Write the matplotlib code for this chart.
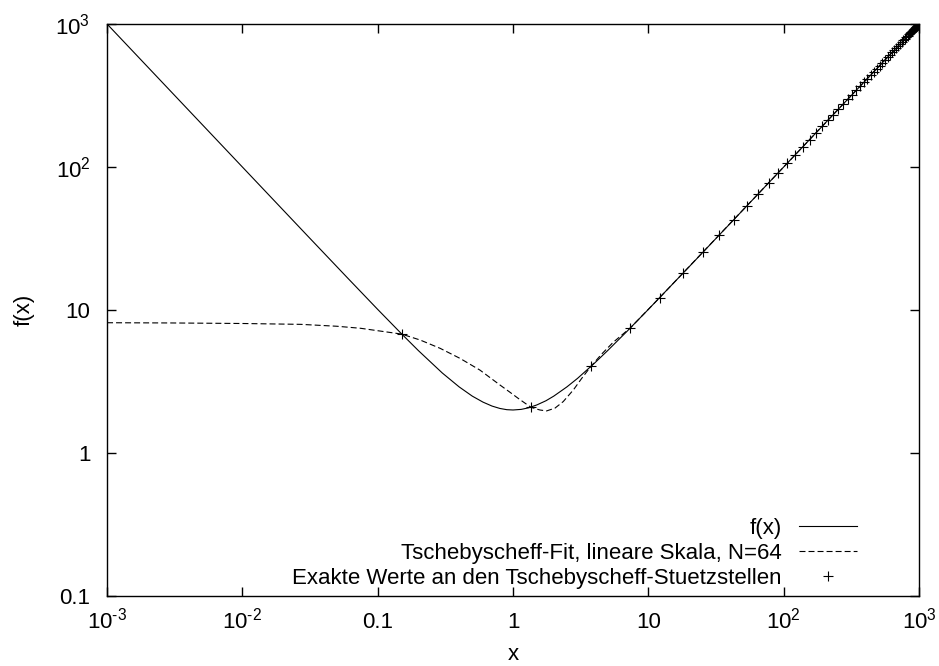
import matplotlib
matplotlib.use("Agg")
import matplotlib.pyplot as plt

plt.rcParams['font.family'] = ['Liberation Sans', 'DejaVu Sans']
plt.rcParams['mathtext.fontset'] = 'custom'
plt.rcParams['mathtext.rm'] = 'Liberation Sans'
plt.rcParams['mathtext.it'] = 'Liberation Sans:italic'
plt.rcParams['font.size'] = 16
plt.rcParams['lines.scale_dashes'] = False

# f(x)
fx_x = [0.001, 0.01, 0.03, 0.06, 0.1, 0.15, 0.2, 0.3, 0.4, 0.5, 0.6, 0.7, 0.8, 0.9, 1.0,
        1.15, 1.3, 1.5, 1.75, 2.0, 2.5, 3.0, 4.0, 5.0, 7.0, 10, 20, 50, 100, 1000]
fx_y = [1000.0, 100.01, 33.36, 16.73, 10.1, 6.82, 5.2, 3.63, 2.9, 2.5, 2.27, 2.13, 2.05, 2.01, 2.0,
        2.02, 2.07, 2.17, 2.32, 2.5, 2.9, 3.33, 4.25, 5.2, 7.14, 10.1, 20.05, 50.02, 100.01, 1000.0]

# Tschebyscheff-Fit (dashed)
fit_x = [0.001, 0.003, 0.01, 0.027, 0.05, 0.075, 0.104, 0.15, 0.206, 0.289, 0.406, 0.57, 0.801,
         0.95, 1.1, 1.355, 1.58, 1.77, 2.04, 2.35, 2.79, 3.22, 3.76, 4.5, 5.5, 7.36, 12.15, 100, 1000]
fit_y = [8.15, 8.12, 8.05, 7.94, 7.7, 7.45, 7.13, 6.79, 6.17, 5.40, 4.59, 3.80, 2.99,
         2.66, 2.40, 2.09, 2.0, 1.97, 2.06, 2.29, 2.76, 3.33, 4.03, 4.9, 5.95, 7.5, 12.23, 100.01, 1000.0]

# Tschebyscheff-Stuetzstellen
st_x = [0.15, 1.355, 3.76, 7.36, 12.15, 18.11, 25.24, 33.50, 42.90, 53.39, 64.96, 77.57,
        91.21, 105.83, 121.40, 137.88, 155.23, 173.41, 192.38, 212.10, 232.50, 253.55,
        275.19, 297.38, 320.05, 343.16, 366.64, 390.45, 414.52, 438.80, 463.22, 487.73,
        512.27, 536.78, 561.20, 585.48, 609.55, 633.36, 656.84, 679.95, 702.62, 724.81,
        746.45, 767.50, 787.90, 807.62, 826.59, 844.77, 862.12, 878.60, 894.17, 908.79,
        922.43, 935.04, 946.61, 957.10, 966.50, 974.76, 981.89, 987.85, 992.64, 996.24,
        998.65, 999.85]
st_y = [6.79, 2.09, 4.03, 7.50, 12.23, 18.17, 25.28, 33.53, 42.92, 53.41, 64.98, 77.58,
        91.22, 105.84, 121.41, 137.89, 155.24, 173.42, 192.39, 212.10, 232.50, 253.55,
        275.19, 297.38, 320.05, 343.16, 366.64, 390.45, 414.52, 438.80, 463.22, 487.73,
        512.27, 536.78, 561.20, 585.48, 609.55, 633.36, 656.84, 679.95, 702.62, 724.81,
        746.45, 767.50, 787.90, 807.62, 826.59, 844.77, 862.12, 878.60, 894.17, 908.79,
        922.43, 935.04, 946.61, 957.10, 966.50, 974.76, 981.89, 987.85, 992.64, 996.24,
        998.65, 999.85]

xticks = [1e-3, 1e-2, 0.1, 1, 10, 100, 1000]
xlabels = [r'$10^{\text{-}3}$', r'$10^{\text{-}2}$', '0.1', '1', '10', r'$10^{2}$', r'$10^{3}$']
yticks = [0.1, 1, 10, 100, 1000]
ylabels = ['0.1', '1', '10', r'$10^{2}$', r'$10^{3}$']

fig = plt.figure(figsize=(9.39, 6.66), dpi=100)
ax = fig.add_subplot(111)
fig.subplots_adjust(left=0.114, right=0.9787, top=0.964, bottom=0.105)

ax.plot(fx_x, fx_y, color='black', lw=0.8, label='f(x)')
ax.plot(fit_x, fit_y, color='black', lw=0.8, dashes=(4.3, 2.2),
        label='Tschebyscheff-Fit, lineare Skala, N=64')
ax.plot(st_x, st_y, ls='none', marker='+', ms=7, mew=0.8, color='black',
        label='Exakte Werte an den Tschebyscheff-Stuetzstellen')

ax.set_xscale('log')
ax.set_yscale('log')
ax.set_xlim(1e-3, 1e3)
ax.set_ylim(0.1, 1e3)
ax.set_xticks(xticks, xlabels)
ax.set_yticks(yticks, ylabels)
ax.minorticks_off()
ax.tick_params(direction='in', top=True, right=True, length=6.5, width=1.0)
ax.tick_params(axis='x', pad=23)
ax.tick_params(axis='y', pad=12)
for lbl in ax.get_xticklabels():
    lbl.set_verticalalignment('baseline')
for s in ax.spines.values():
    s.set_linewidth(1.0)

ax.set_xlabel('x', labelpad=8)
ax.set_ylabel('f(x)', labelpad=15)

ax.legend(loc='lower right', bbox_to_anchor=(0.9236, 0.013), frameon=False,
          markerfirst=False, handlelength=2.6, handletextpad=0.8,
          labelspacing=0.18, borderpad=0, borderaxespad=0)

fig.savefig('out.png', dpi=100)
